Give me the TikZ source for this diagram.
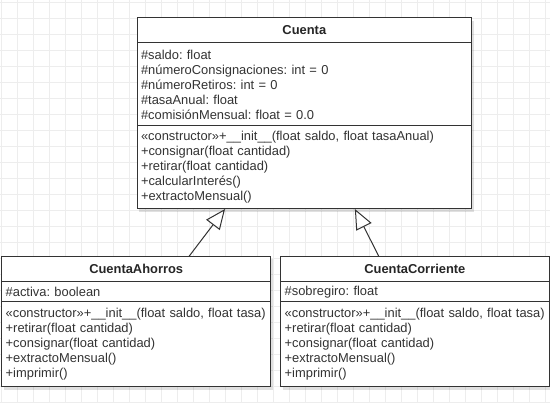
\documentclass[tikz,border=0pt]{standalone}
\usepackage{fontspec}
\setmainfont{Liberation Sans}
\frenchspacing
\usetikzlibrary{arrows.meta, positioning, calc, shadows}
\definecolor{rejilla}{HTML}{EDEDED}
\definecolor{trazo}{HTML}{333333}

\begin{document}
\begin{tikzpicture}[x=1pt,y=-1pt,
    clase/.style={draw=trazo, fill=white, line width=1pt, outer sep=0pt, anchor=north west,
        drop shadow={shadow xshift=2pt, shadow yshift=-3pt, opacity=0.12, fill=black}},
    titulo/.style={clase, inner sep=0pt, font=\fontsize{12.9}{15}\selectfont\bfseries, text=black!85},
    cuerpo/.style={clase, inner xsep=4pt, inner ysep=2pt, align=left,
        font=\fontsize{12.9}{15}\selectfont, text=black!80},
    hereda/.style={draw=trazo, line width=1pt, -{Triangle[open, length=20pt, width=17pt]}}]
    \useasboundingbox (0,0) rectangle (550,403);
    \fill[white] (0,0) rectangle (550,403);
    \foreach \x in {1,17,...,545} \draw[rejilla, line width=0.8pt] (\x,0) -- (\x,403);
    \foreach \y in {2,18,...,402} \draw[rejilla, line width=0.8pt] (0,\y) -- (550,\y);

    % clase base
    \node[titulo, minimum width=334.7pt, minimum height=25pt] (cuenta) at (137,18) {Cuenta};
    \node[cuerpo, text width=326.7pt, minimum height=83pt] (cuentaAtr) at (cuenta.south west)
        {\#saldo: float\\\#númeroConsignaciones: int = 0\\\#númeroRetiros: int = 0\\\#tasaAnual: float\\\#comisiónMensual: float = 0.0};
    \node[cuerpo, text width=326.7pt, minimum height=83pt] (cuentaOps) at (cuentaAtr.south west)
        {«constructor»+\_\_init\_\_(float saldo, float tasaAnual)\\+consignar(float cantidad)\\+retirar(float cantidad)\\+calcularInterés()\\+extractoMensual()};

    % subclases
    \node[titulo, minimum width=269pt, minimum height=25.5pt] (ahorros) at (1.7,256.5) {CuentaAhorros};
    \node[cuerpo, text width=261pt, minimum height=19.5pt] (ahorrosAtr) at (ahorros.south west) {\#activa: boolean};
    \node[cuerpo, text width=261pt, minimum height=85.5pt] (ahorrosOps) at (ahorrosAtr.south west)
        {«constructor»+\_\_init\_\_(float saldo, float tasa)\\+retirar(float cantidad)\\+consignar(float cantidad)\\+extractoMensual()\\+imprimir()};

    \node[titulo, minimum width=268.3pt, minimum height=25.5pt] (corriente) at (280.7,256.5) {CuentaCorriente};
    \node[cuerpo, text width=260.3pt, minimum height=19.5pt] (corrienteAtr) at (corriente.south west) {\#sobregiro: float};
    \node[cuerpo, text width=260.3pt, minimum height=85.5pt] (corrienteOps) at (corrienteAtr.south west)
        {«constructor»+\_\_init\_\_(float saldo, float tasa)\\+retirar(float cantidad)\\+consignar(float cantidad)\\+extractoMensual()\\+imprimir()};

    \draw[hereda] ($(ahorros.north west)!0.696!(ahorros.north east)$) -- ($(cuentaOps.south west)!0.263!(cuentaOps.south east)$);
    \draw[hereda] ($(corriente.north west)!0.366!(corriente.north east)$) -- ($(cuentaOps.south west)!0.651!(cuentaOps.south east)$);
\end{tikzpicture}
\end{document}
